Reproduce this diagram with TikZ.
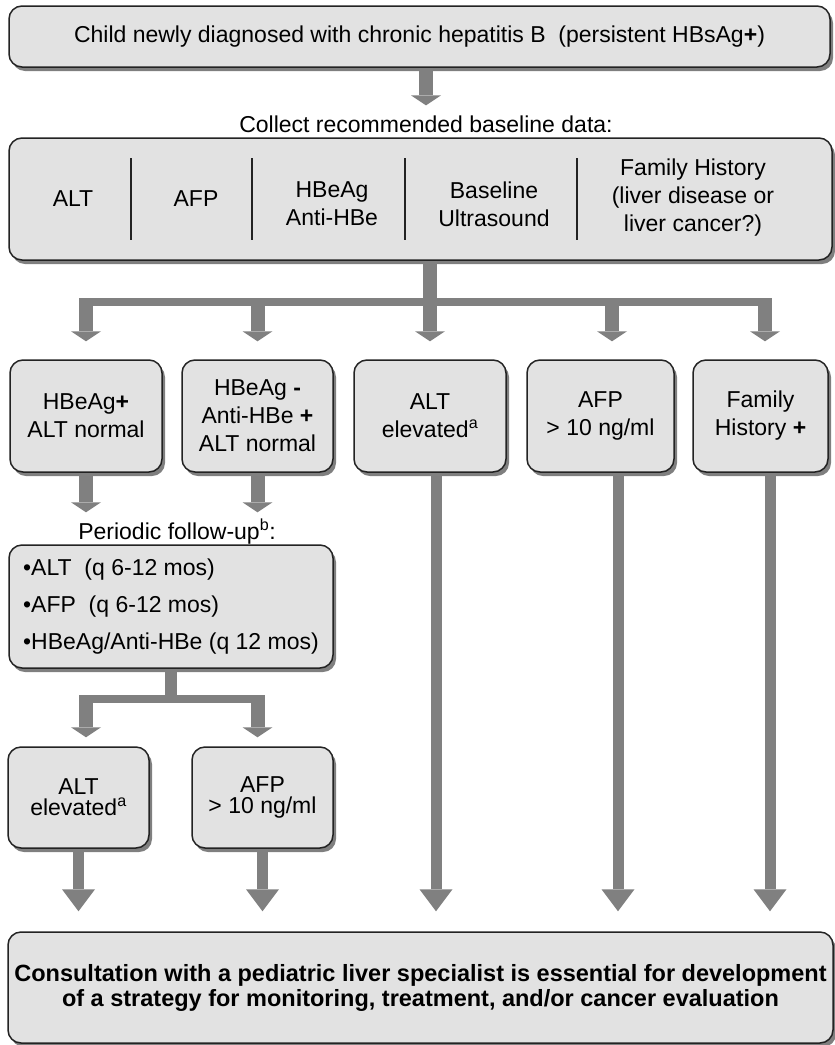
\documentclass[tikz,border=0pt]{standalone}
\usepackage{fontspec}
\setmainfont{Liberation Sans}
\usepackage{xcolor}
\usetikzlibrary{arrows.meta,shadows}
\definecolor{boxfill}{RGB}{226,226,226}
\definecolor{boxline}{RGB}{35,35,35}
\definecolor{flowgray}{RGB}{128,128,128}

\begin{document}
\begin{tikzpicture}[x=1pt,y=-1pt,
  box/.style={draw=boxline, fill=boxfill, line width=1.5pt, rounded corners=13pt,
    drop shadow={shadow xshift=3pt, shadow yshift=-4pt, fill=black, opacity=0.5},
    align=center, inner sep=0pt, font=\fontsize{23}{28}\selectfont},
  lbl/.style={inner sep=2pt, align=center, font=\fontsize{23}{28}\selectfont},
  flow/.style={draw=flowgray, line width=14pt, -{Triangle[width=30pt,length=10pt,line width=0pt]}},
  longflow/.style={draw=flowgray, line width=11pt, -{Triangle[width=33pt,length=22pt,line width=0pt]}},
  stem/.style={draw=flowgray, line width=12pt},
  bar/.style={draw=flowgray, line width=8pt, line cap=rect},
  sep/.style={draw=boxline, line width=1.2pt}]
\useasboundingbox[fill=white] (0,0) rectangle (835,1045);

% top of the chart
\node[box, minimum width=821pt, minimum height=61pt] (diag) at (419.5,36.5)
  {Child newly diagnosed with chronic hepatitis B\ \ (persistent HBsAg\textbf{+})};
\node[lbl] (collect) at (426,124) {Collect recommended baseline data:};

% baseline data
\node[box, minimum width=823pt, minimum height=122pt] (base) at (420.5,199) {};
\node[lbl] (alt) at (73,199) {ALT};
\node[lbl] (afp) at (196,199) {AFP};
\node[lbl] (hbe) at (332,204) {HBeAg\\Anti-HBe};
\node[lbl] (us) at (494,204) {Baseline\\Ultrasound};
\node[lbl] (fam) at (693,198) {Family History\\(liver disease or\\liver cancer?)};
\foreach \x in {131,252,405,577}
  \draw[sep] (\x,158) -- (\x,240);

% results
\node[box, minimum width=152pt, minimum height=112pt] (box1) at (86,416) {HBeAg\textbf{+}\\ALT normal};
\node[box, minimum width=151pt, minimum height=112pt] (box2) at (257.5,416) {HBeAg \textbf{-}\\Anti-HBe \textbf{+}\\ALT normal};
\node[box, minimum width=152pt, minimum height=112pt] (box3) at (430,416) {ALT\\elevated\textsuperscript{a}};
\node[box, minimum width=147pt, minimum height=112pt] (box4) at (600.5,416) {AFP\\> 10 ng/ml};
\node[box, minimum width=135pt, minimum height=112pt] (box5) at (760.5,416) {Family\\History \textbf{+}};

\node[lbl] (periodic) at (177,532) {Periodic follow-up\textsuperscript{b}:};
\node[box, minimum width=324pt, minimum height=123pt, align=left,
  font=\fontsize{23}{37}\selectfont] (fup) at (171,606.5)
  {\textbullet ALT\ \ (q 6-12 mos)\\\textbullet AFP\ \ (q 6-12 mos)\\\textbullet HBeAg/Anti-HBe (q 12 mos)};

\node[box, minimum width=141pt, minimum height=101pt, font=\fontsize{23}{21}\selectfont] (altup) at (78.5,797.5) {ALT\\elevated\textsuperscript{a}};
\node[box, minimum width=141pt, minimum height=101pt, font=\fontsize{23}{21}\selectfont] (afpup) at (262.5,797.5) {AFP\\> 10 ng/ml};

\node[box, minimum width=825pt, minimum height=111pt,
  font=\fontsize{23.5}{25}\selectfont\bfseries] (consult) at (420.5,987.5)
  {Consultation with a pediatric liver specialist is essential for development\\of a strategy for monitoring, treatment, and/or cancer evaluation};

% arrows
\draw[flow, shorten >=8pt] (diag.south -| collect.north) -- (collect.north);

\coordinate (fork) at (430,302);
\coordinate (forktop) at (430,298);
\coordinate (in4) at ([xshift=11.5pt]box4.north);
\coordinate (in5) at ([xshift=4.5pt]box5.north);
\draw[bar] (fork -| box1) -- (fork -| in5);
\draw[flow, shorten >=18pt] (base.south -| box3) -- (box3.north);
\draw[flow, shorten >=18pt] (forktop -| box1) -- (box1.north);
\draw[flow, shorten >=18pt] (forktop -| box2) -- (box2.north);
\draw[flow, shorten >=18pt] (forktop -| in4) -- (in4);
\draw[flow, shorten >=18pt] (forktop -| in5) -- (in5);

\draw[flow, shorten >=32pt] (box1.south) -- (box1.south |- fup.north);
\draw[flow, shorten >=32pt] (box2.south) -- (box2.south |- fup.north);

\coordinate (fork2) at (171,699);
\coordinate (fork2top) at (171,695);
\draw[stem] (fup.south) -- (fork2);
\draw[bar] (fork2 -| box1) -- (fork2 -| box2);
\draw[flow, shorten >=9pt] (fork2top -| box1) -- (box1 |- altup.north);
\draw[flow, shorten >=9pt] (fork2top -| box2) -- (box2 |- afpup.north);

\coordinate (out3) at ([xshift=6pt]box3.south);
\coordinate (out4) at ([xshift=17.5pt]box4.south);
\coordinate (out5) at ([xshift=9.5pt]box5.south);
\draw[longflow, shorten >=20pt] (altup.south) -- (altup.south |- consult.north);
\draw[longflow, shorten >=20pt] (afpup.south) -- (afpup.south |- consult.north);
\draw[longflow, shorten >=20pt] (out3) -- (out3 |- consult.north);
\draw[longflow, shorten >=20pt] (out4) -- (out4 |- consult.north);
\draw[longflow, shorten >=20pt] (out5) -- (out5 |- consult.north);
\end{tikzpicture}
\end{document}
